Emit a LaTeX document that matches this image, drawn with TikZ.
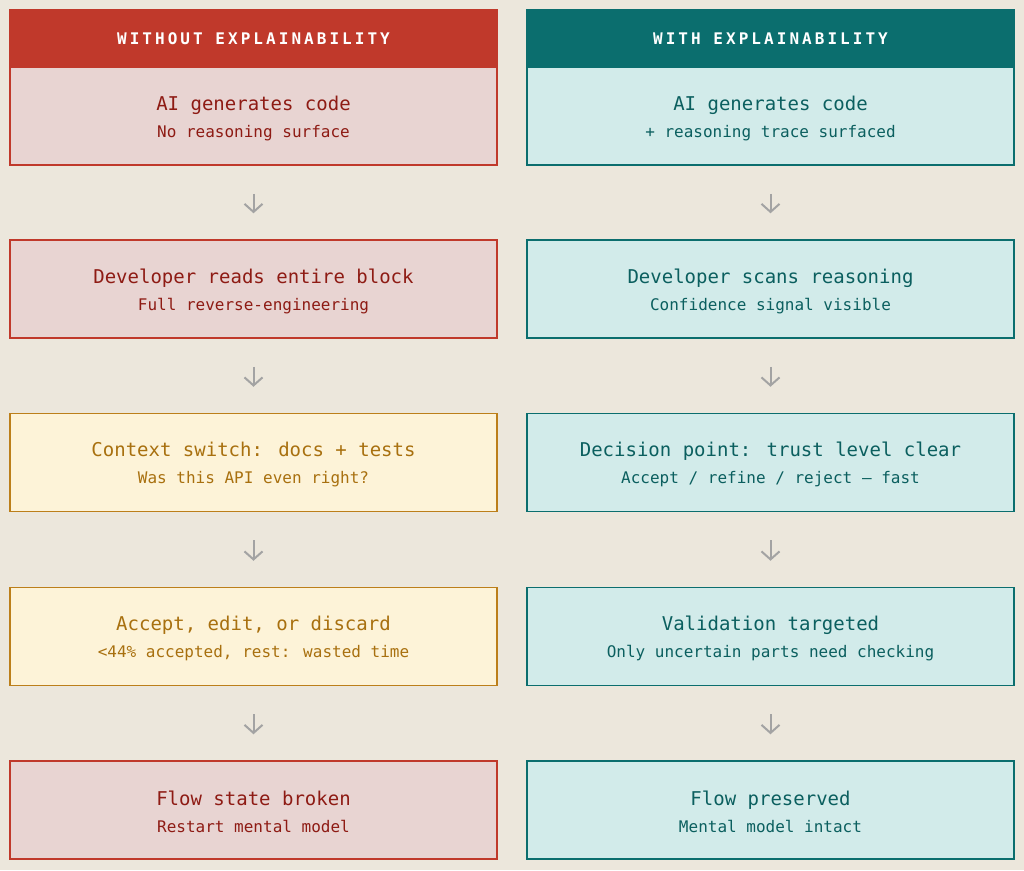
\documentclass[tikz,border=0pt]{standalone}
\usepackage{xcolor}
\usepackage{fontspec}
\usepackage{tikz}
\usetikzlibrary{arrows.meta}

\newfontfamily\monofont{DejaVu Sans Mono}
\newfontfamily\headfont[LetterSpace=19]{DejaVu Sans Mono}

\definecolor{bgbeige}{HTML}{ECE7DC}
\definecolor{redhead}{HTML}{C0392B}
\definecolor{redfill}{HTML}{E8D4D2}
\definecolor{redtext}{HTML}{8E1B14}
\definecolor{tealhead}{HTML}{0B6E6E}
\definecolor{tealfill}{HTML}{D2EBEA}
\definecolor{tealtext}{HTML}{0B5F5F}
\definecolor{yelfill}{HTML}{FDF3D8}
\definecolor{yelline}{HTML}{BC7F1A}
\definecolor{yeltext}{HTML}{A8700F}
\definecolor{arrowgray}{HTML}{A3A3A3}

\newcommand{\boxlines}[2]{{\fontsize{19}{27}\selectfont\rule{0pt}{18.5pt}#1}\\#2}

\begin{document}
\begin{tikzpicture}[x=1pt,y=-1pt,
    flowbox/.style={rectangle,minimum width=487pt,minimum height=98pt,inner sep=0pt,
        line width=1.5pt,align=center,font=\monofont\fontsize{16}{27}\selectfont},
    redbox/.style={flowbox,fill=redfill,draw=redhead,text=redtext},
    yelbox/.style={flowbox,fill=yelfill,draw=yelline,text=yeltext},
    tealbox/.style={flowbox,fill=tealfill,draw=tealhead,text=tealtext},
    headbox/.style={rectangle,minimum width=487pt,minimum height=57pt,inner sep=0pt,
        line width=1.5pt,text=white,font=\headfont\bfseries\fontsize{16}{16}\selectfont},
    flowarrow/.style={draw=arrowgray,line width=2pt,-{Straight Barb[length=8pt,width=18pt]},
        shorten <=28pt,shorten >=26pt}]
    \fill[bgbeige] (0,0) rectangle (1024,870);
    \useasboundingbox (0,0) rectangle (1024,870);

    % left column
    \node[headbox,fill=redhead,draw=redhead] (lh) at (253.5,38.5) {WITHOUT EXPLAINABILITY};
    \node[redbox] (l1) at (253.5,116) {\boxlines{AI generates code}{No reasoning surface}};
    \node[redbox] (l2) at (253.5,289) {\boxlines{Developer reads entire block}{Full reverse-engineering}};
    \node[yelbox] (l3) at (253.5,462.5) {\boxlines{Context switch: docs + tests}{Was this API even right?}};
    \node[yelbox] (l4) at (253.5,636.5) {\boxlines{Accept, edit, or discard}{<44\% accepted, rest: wasted time}};
    \node[redbox] (l5) at (253.5,810) {\boxlines{Flow state broken}{Restart mental model}};

    % right column
    \node[headbox,fill=tealhead,draw=tealhead] (rh) at (770.5,38.5) {WITH EXPLAINABILITY};
    \node[tealbox] (r1) at (770.5,116) {\boxlines{AI generates code}{+ reasoning trace surfaced}};
    \node[tealbox] (r2) at (770.5,289) {\boxlines{Developer scans reasoning}{Confidence signal visible}};
    \node[tealbox] (r3) at (770.5,462.5) {\boxlines{Decision point: trust level clear}{Accept / refine / reject — fast}};
    \node[tealbox] (r4) at (770.5,636.5) {\boxlines{Validation targeted}{Only uncertain parts need checking}};
    \node[tealbox] (r5) at (770.5,810) {\boxlines{Flow preserved}{Mental model intact}};

    \foreach \a/\b in {l1/l2,l2/l3,l3/l4,l4/l5,r1/r2,r2/r3,r3/r4,r4/r5}
        \draw[flowarrow] (\a) -- (\b);
\end{tikzpicture}
\end{document}
